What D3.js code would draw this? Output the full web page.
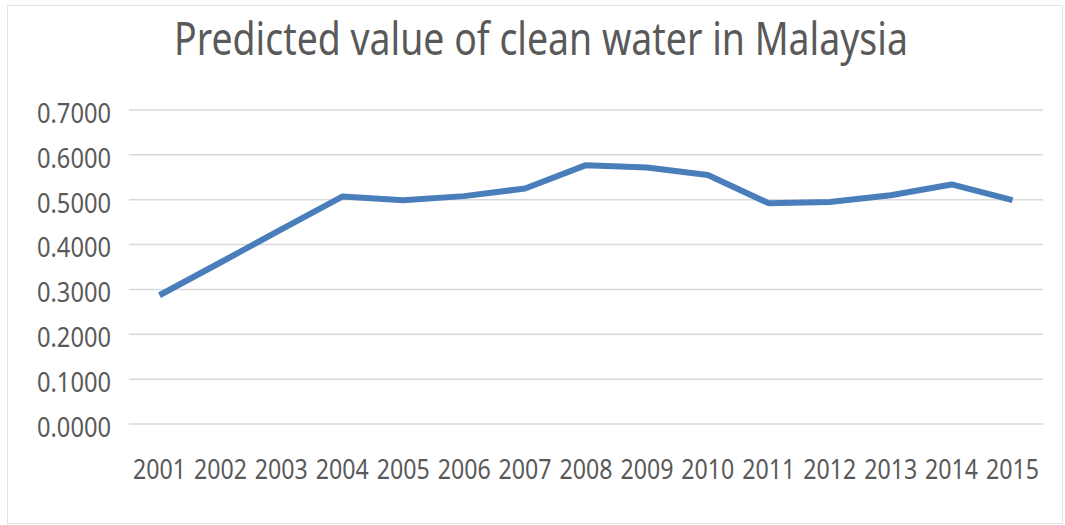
<!DOCTYPE html>
<html>
<head>
<meta charset="utf-8">
<script src="https://cdn.jsdelivr.net/npm/d3@7"></script>
<style>
  html, body { margin: 0; padding: 0; background: #ffffff; }
  svg { display: block; }
</style>
</head>
<body>
<svg id="chart" width="1065" height="525"></svg>
<script>
const title = "Predicted value of clean water in Malaysia";
const years = ["2001","2002","2003","2004","2005","2006","2007","2008","2009","2010","2011","2012","2013","2014","2015"];
const values = [0.287, 0.360, 0.434, 0.507, 0.499, 0.508, 0.525, 0.577, 0.572, 0.555, 0.492, 0.495, 0.510, 0.534, 0.499];
const yTicks = [0, 0.1, 0.2, 0.3, 0.4, 0.5, 0.6, 0.7];

const svg = d3.select("#chart");
const plot = { left: 129, right: 1043, top: 110, bottom: 424 };
const font = "'Noto Sans', 'Open Sans', sans-serif";
const textColor = "#595959";
const gridColor = "#d9d9d9";

// chart border
svg.append("rect")
  .attr("x", 7.5).attr("y", 5.5)
  .attr("width", 1055).attr("height", 518)
  .attr("fill", "#ffffff")
  .attr("stroke", "#e3e3e3").attr("stroke-width", 1);

const x = d3.scaleBand().domain(years).range([plot.left, plot.right]).padding(0);
const y = d3.scaleLinear().domain([0, 0.7]).range([plot.bottom, plot.top]);

// gridlines
svg.append("g")
  .selectAll("line")
  .data(yTicks)
  .join("line")
  .attr("x1", plot.left).attr("x2", plot.right)
  .attr("y1", d => y(d)).attr("y2", d => y(d))
  .attr("stroke", gridColor).attr("stroke-width", 1.5);

// y axis
const yAxis = svg.append("g")
  .attr("transform", `translate(${plot.left - 18},0)`)
  .call(d3.axisLeft(y).tickValues(yTicks).tickFormat(d3.format(".4f")).tickSize(0).tickPadding(0));
yAxis.select(".domain").remove();
yAxis.selectAll("text")
  .attr("font-family", font).attr("font-size", 27)
  .attr("fill", textColor)
  .attr("dy", "0.46em")
  .attr("textLength", 74).attr("lengthAdjust", "spacingAndGlyphs");

// x axis
const xAxis = svg.append("g")
  .attr("transform", `translate(0,${plot.bottom})`)
  .call(d3.axisBottom(x).tickSize(0).tickPadding(0));
xAxis.select(".domain").remove();
xAxis.selectAll("text")
  .attr("font-family", font).attr("font-size", 27)
  .attr("fill", textColor)
  .attr("dy", null)
  .attr("y", 55)
  .attr("textLength", 53).attr("lengthAdjust", "spacingAndGlyphs");

// line
const line = d3.line()
  .x((d, i) => x(years[i]) + x.bandwidth() / 2)
  .y(d => y(d));
svg.append("path")
  .datum(values)
  .attr("d", line)
  .attr("fill", "none")
  .attr("stroke", "#4a7ebb")
  .attr("stroke-width", 6)
  .attr("stroke-linejoin", "round")
  .attr("stroke-linecap", "butt");

// title (scaled horizontally to the reference width)
const titleText = svg.append("text")
  .attr("text-anchor", "middle")
  .attr("font-family", font).attr("font-size", 46)
  .attr("fill", textColor)
  .text(title);
const natural = titleText.node().getComputedTextLength() || 734;
titleText.attr("transform", `translate(541,55) scale(${734 / natural},1)`);
</script>
</body>
</html>
